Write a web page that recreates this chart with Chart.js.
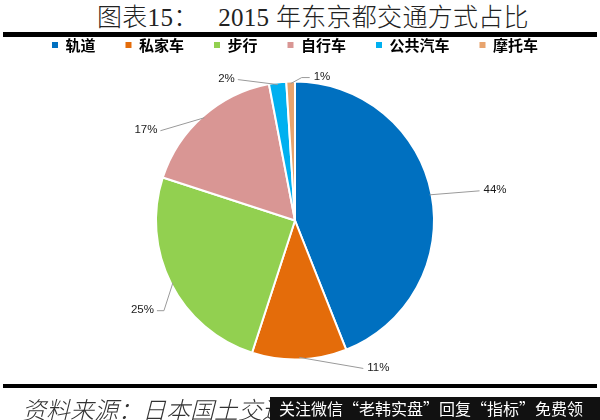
<!DOCTYPE html>
<html>
<head>
<meta charset="utf-8">
<script src="https://cdn.jsdelivr.net/npm/chart.js@4.4.0/dist/chart.umd.min.js"></script>
<style>
    html, body { margin: 0; padding: 0; background: #fff; }
    #wrap { position: relative; width: 600px; height: 420px; overflow: hidden; }
    #chart { position: absolute; left: 0; top: 0; }
    .title {
        position: absolute; left: 97px; top: 5px; white-space: pre;
        font-family: "Liberation Serif", "Noto Sans CJK SC", serif;
        font-size: 25px; line-height: 25px; color: #222; font-weight: 300; letter-spacing: 0.3px;
    }
    .rule { position: absolute; left: 3px; width: 594px; background: #000; }
    .source {
        position: absolute; left: 22px; top: 395px; white-space: pre;
        font-family: "Noto Sans CJK SC", sans-serif; font-style: italic; font-weight: 300;
        font-size: 24px; line-height: 28px; color: #333;
    }
    .banner {
        position: absolute; left: 270px; top: 397px; width: 330px; height: 23px; background: #111;
        color: #fff; font-family: "Noto Sans CJK SC", sans-serif; font-size: 16px; line-height: 23px;
        padding-left: 9px; box-sizing: border-box; white-space: pre;
    }
</style>
</head>
<body>
<div id="wrap">
    <div class="title">图表15：   2015 年东京都交通方式占比</div>
    <div class="rule" style="top:32px;height:5px"></div>
    <canvas id="chart" width="600" height="420"></canvas>
    <div class="rule" style="top:384px;height:4px"></div>
    <div class="source">资料来源：日本国土交通省</div>
    <div class="banner">关注微信“老韩实盘”回复“指标”免费领</div>
</div>

<script>
// --- data ---
const modes = ['轨道', '私家车', '步行', '自行车', '公共汽车', '摩托车'];
const shares = [44, 11, 25, 17, 2, 1];
const sliceColors = ['#0070C0', '#E46C0A', '#92D050', '#D99694', '#00B0F0', '#E8A46E'];

// leader line knee (dx, dy from slice edge) and horizontal tail length
const leaderKnees = [[50, -4, 0], [64, 11, 0], [-9, 28, -7], [-44, 13, 0], [-40, -5, 0], [11, -6, 8]];

// Excel style outside labels with leader lines
const outsideLabels = {
    id: 'outsideLabels',
    afterDatasetsDraw(chart) {
        const ctx = chart.ctx;
        const arcs = chart.getDatasetMeta(0).data;
        ctx.save();
        ctx.font = '11.5px "Liberation Sans", Arial, sans-serif';
        ctx.textBaseline = 'middle';
        arcs.forEach((arc, i) => {
            const mid = (arc.startAngle + arc.endAngle) / 2;
            const r = arc.outerRadius - 2;
            const ex = arc.x + Math.cos(mid) * r;
            const ey = arc.y + Math.sin(mid) * r;
            const [dx, dy, tail] = leaderKnees[i];
            const kx = ex + dx, ky = ey + dy;
            const endX = kx + tail;
            ctx.strokeStyle = '#9a9a9a';
            ctx.lineWidth = 1;
            ctx.beginPath();
            ctx.moveTo(ex, ey);
            ctx.lineTo(kx, ky);
            if (tail) ctx.lineTo(endX, ky);
            ctx.stroke();
            const goRight = tail ? tail > 0 : dx > 0;
            ctx.fillStyle = '#1a1a1a';
            ctx.textAlign = goRight ? 'left' : 'right';
            ctx.fillText(shares[i] + '%', endX + (goRight ? 4 : -3), ky - 1);
        });
        ctx.restore();
    }
};

new Chart(document.getElementById('chart').getContext('2d'), {
    type: 'pie',
    data: {
        labels: modes,
        datasets: [{
            data: shares,
            backgroundColor: sliceColors,
            borderColor: '#ffffff',
            borderWidth: 2,
            hoverOffset: 0,
            radius: 139
        }]
    },
    options: {
        responsive: false,
        animation: false,
        events: [],
        layout: { padding: { top: 7.5, left: 0, right: 10, bottom: 41.5 } },
        plugins: {
            tooltip: { enabled: false },
            legend: {
                position: 'top',
                labels: {
                    boxWidth: 6,
                    boxHeight: 6,
                    padding: 30,
                    color: '#222',
                    font: { family: '"Noto Sans CJK SC", sans-serif', size: 15, weight: 'bold' },
                    generateLabels: (chart) => modes.map((m, i) => ({
                        text: m,
                        fillStyle: sliceColors[i],
                        strokeStyle: sliceColors[i],
                        lineWidth: 0,
                        index: i
                    }))
                }
            }
        }
    },
    plugins: [outsideLabels]
});
</script>
</body>
</html>
